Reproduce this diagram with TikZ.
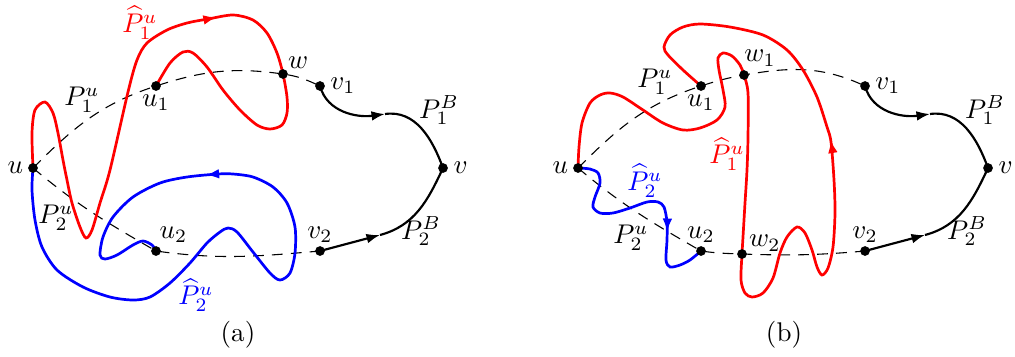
\documentclass[tikz,border=0pt]{standalone}
\usepackage{amsmath,amssymb}
\usepackage{xcolor}
\usepackage{tikz}
\usetikzlibrary{positioning,arrows.meta,backgrounds,decorations.markings}

\begin{document}
\begin{tikzpicture}[x=0.37pt,y=0.37pt,
                    dot/.style={circle,fill,inner sep=0pt,minimum size=3.6pt},
                    lbl/.style={inner sep=1pt},
                    dashline/.style={dash pattern=on 4pt off 3pt,line width=0.4pt},
                    bpath/.style={line width=0.8pt},
                    rpath/.style={red,line width=1pt},
                    upath/.style={blue,line width=1pt},
                    tip/.style={-{Latex[length=5pt,width=3.6pt]}},
                    midtip/.style={postaction={decorate},decoration={markings,
                      mark=at position #1 with {\arrow{Latex[length=5pt,width=3.6pt]}}}}]
  \useasboundingbox (0,0) rectangle (1015,356);

  \node[dot] (u)  at (33,188)  {};
  \node[dot] (u1) at (156,270) {};
  \node[dot] (w)  at (283,282) {};
  \node[dot] (v1) at (320,270) {};
  \node[dot] (v)  at (443,188) {};
  \node[dot] (u2) at (156,105) {};
  \node[dot] (v2) at (320,105) {};
  \coordinate (a1) at (385,242);
  \coordinate (a2) at (380,121);

  \node[lbl,left=0.5pt of u]                  {$u$};
  \node[lbl,below=0pt of u1]                  {$u_1$};
  \node[lbl,above right=-0.5pt and -0.7pt of w] {$w$};
  \node[lbl,right=0.6pt of v1]                {$v_1$};
  \node[lbl,right=0.7pt of v]                 {$v$};
  \node[lbl,above right=0.4pt and -1.3pt of u2] {$u_2$};
  \node[lbl,above=0pt of v2]                  {$v_2$};

  \node[lbl] (p1a)  at (82,256)  {$P_1^u$};
  \node[lbl] (p2a)  at (56,138)  {$P_2^u$};
  \node[lbl,red]  (hp1a) at (140,333) {$\widehat{P}_1^u$};
  \node[lbl,blue] (hp2a) at (196,61)  {$\widehat{P}_2^u$};
  \node[lbl] (pb1a) at (439,246) {$P_1^B$};
  \node[lbl] (pb2a) at (421,125) {$P_2^B$};
  \node (capa) at (238,21) {(a)};

  \node[dot] (bu)  at (578,188) {};
  \node[dot] (bu1) at (701,270) {};
  \node[dot] (bw1) at (744,281) {};
  \node[dot] (bv1) at (865,270) {};
  \node[dot] (bv)  at (988,188) {};
  \node[dot] (bu2) at (701,105) {};
  \node[dot] (bw2) at (742,102) {};
  \node[dot] (bv2) at (865,105) {};
  \coordinate (ba1) at (930,242);
  \coordinate (ba2) at (925,121);

  \node[lbl,left=0.5pt of bu]                   {$u$};
  \node[lbl,below=0pt of bu1]                   {$u_1$};
  \node[lbl,above right=0.7pt and -2.5pt of bw1] {$w_1$};
  \node[lbl,right=0.6pt of bv1]                 {$v_1$};
  \node[lbl,right=0.7pt of bv]                  {$v$};
  \node[lbl,above=0pt of bu2]                   {$u_2$};
  \node[lbl,above right=-1.5pt and 0pt of bw2]  {$w_2$};
  \node[lbl,above=0pt of bv2]                   {$v_2$};

  \node[lbl] (p1b)  at (655,274) {$P_1^u$};
  \node[lbl] (p2b)  at (631,118) {$P_2^u$};
  \node[lbl,red]  (hp1b) at (727,202) {$\widehat{P}_1^u$};
  \node[lbl,blue] (hp2b) at (645,175) {$\widehat{P}_2^u$};
  \node[lbl] (pb1b) at (985,246) {$P_1^B$};
  \node[lbl] (pb2b) at (967,125) {$P_2^B$};
  \node (capb) at (784,21) {(b)};

  \begin{scope}[on background layer]
    \draw[dashline] (u.center) to[out=45,in=198] (u1.center) to[out=18,in=172] (w.center)
                    to[out=-8,in=155] (v1.center);
    \draw[dashline] (u.center) to[out=-40,in=150] (u2.center) to[out=-8,in=185] (v2.center);

    \draw[rpath,midtip=184pt] plot[smooth,tension=0.5] coordinates {(u.center) (32,223)
      (35,246) (45,254) (53,243) (58,223) (63,196) (67,176) (72,153) (80,129) (86,118)
      (92,126) (100,153) (110,186) (128,264) (137,296) (147,313) (167,326) (187,333)
      (208,337) (233,341) (253,336) (267,323) (277,303) (w.center) (287,259) (287,243)
      (282,231) (270,227) (257,231) (240,246) (223,266) (207,289) (193,303) (183,304)
      (170,293) (u1.center)};

    \draw[upath,midtip=209pt] plot[smooth,tension=0.5] coordinates {(u.center) (32,166)
      (35,136) (42,109) (57,86) (83,69) (110,59) (133,56) (150,59) (170,73) (190,93)
      (207,113) (220,124) (228,128) (237,124) (253,104) (270,83) (280,76) (290,83) (295,103)
      (295,129) (287,153) (273,169) (253,179) (233,182) (218,182) (187,179) (160,173)
      (133,159) (113,139) (103,119) (100,101) (105,97) (117,101) (133,111) (143,115)
      (152,111) (u2.center)};

    \draw[bpath,tip] (v1.center) to[out=-75,in=188] (a1);
    \draw[bpath] (a1) to[out=8,in=110] (v.center);
    \draw[bpath,tip] (v2.center) to[out=15,in=195] (a2);
    \draw[bpath] (a2) to[out=15,in=245] (v.center);

    \draw[dashline] (bu.center) to[out=45,in=198] (bu1.center) to[out=18,in=190] (bw1.center)
                    to[out=10,in=155] (bv1.center);
    \draw[dashline] (bu.center) to[out=-40,in=150] (bu2.center) to[out=-8,in=178] (bw2.center)
                    to[out=-2,in=185] (bv2.center);

    \draw[rpath,midtip=305pt] plot[smooth,tension=0.5] coordinates {(bu.center) (579,209)
      (582,233) (590,253) (600,261) (610,263) (623,259) (643,246) (663,233) (683,226)
      (700,228) (717,236) (725,249) (723,266) (719,286) (718,298) (723,303) (732,300)
      (740,291) (bw1.center) (748,263) (748,219) (747,186) (745,153) (743,119) (bw2.center)
      (741,76) (745,63) (752,59) (763,63) (773,78) (780,103) (787,119) (797,129) (805,123)
      (812,106) (817,89) (822,81) (828,88) (833,109) (835,143) (834,176) (831,214) (827,229)
      (817,259) (803,286) (787,306) (763,321) (730,329) (700,332) (683,329) (670,321)
      (664,309) (668,301) (683,286) (bu1.center)};

    \draw[upath,midtip=59pt] plot[smooth,tension=0.5] coordinates {(bu.center) (590,187)
      (598,183) (600,173) (595,159) (593,149) (600,143) (613,143) (630,148) (647,154)
      (658,154) (664,149) (667,134) (667,116) (666,96) (670,89) (680,91) (690,96)
      (bu2.center)};

    \draw[bpath,tip] (bv1.center) to[out=-75,in=188] (ba1);
    \draw[bpath] (ba1) to[out=8,in=110] (bv.center);
    \draw[bpath,tip] (bv2.center) to[out=15,in=195] (ba2);
    \draw[bpath] (ba2) to[out=15,in=245] (bv.center);
  \end{scope}
\end{tikzpicture}
\end{document}
